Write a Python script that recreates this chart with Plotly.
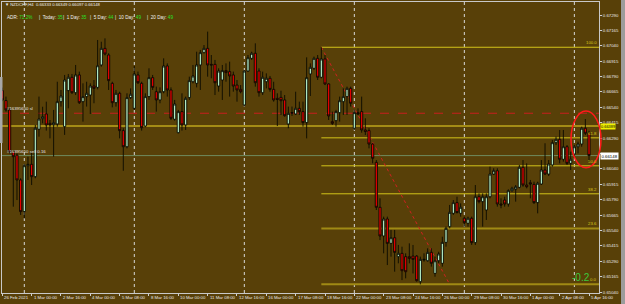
import plotly.graph_objects as go

# ---------------- data ----------------
opens = [0.66676,0.66595,0.66519,0.66179,0.66152,0.65950,0.65693,0.66066,0.66077,0.65977,
0.66362,0.66448,0.66486,0.66410,0.66399,0.66405,0.66586,0.66383,0.66676,0.66784,
0.66659,0.66803,0.66586,0.66627,0.66640,0.66713,0.66702,0.66884,0.67019,0.66965,
0.66735,0.66578,0.66654,0.66351,0.66220,0.66619,0.66532,0.66803,0.66735,0.66388,
0.66627,0.66781,0.66667,0.66600,0.66667,0.66876,0.66681,0.66443,0.66334,0.66505,
0.66397,0.66619,0.66748,0.66735,0.66884,0.66984,0.67019,0.66889,0.66889,0.66713,
0.66762,0.66838,0.66830,0.66803,0.66721,0.66686,0.66559,0.66835,0.66938,0.66979,
0.66835,0.66659,0.66748,0.66776,0.66686,0.66613,0.66621,0.66600,0.66405,0.66491,
0.66486,0.66532,0.66505,0.66416,0.66811,0.66857,0.66938,0.66784,0.66933,0.66730,
0.66424,0.66432,0.66497,0.66586,0.66627,0.66694,0.66370,0.66497,0.66505,0.66356,
0.66351,0.66242,0.66093,0.65728,0.65495,0.65633,0.65435,0.65481,0.65327,0.65354,
0.65327,0.65327,0.65332,0.65332,0.65124,0.65300,0.65294,0.65362,0.65191,0.65294,
0.65273,0.65443,0.65571,0.65679,0.65766,0.65679,0.65639,0.65598,0.65639,0.65441,
0.65814,0.65774,0.65706,0.65814,0.65998,0.66025,0.65755,0.65787,0.65755,0.65863,
0.65876,0.65890,0.66053,0.65909,0.65928,0.65914,0.65766,0.65917,0.66031,0.65998,
0.66072,0.66253,0.66280,0.66118,0.66220,0.66085,0.66161,0.66220,0.66242,0.66370,
0.66333]
highs = [0.66700,0.66627,0.66532,0.66193,0.66166,0.65964,0.66080,0.66139,0.66179,0.66397,
0.66627,0.66545,0.66586,0.66437,0.66519,0.66748,0.66681,0.66803,0.66811,0.66811,
0.66884,0.66830,0.66735,0.66748,0.66735,0.66762,0.67087,0.67073,0.67100,0.66979,
0.66748,0.66681,0.66667,0.66370,0.66654,0.66694,0.66876,0.66830,0.66748,0.66654,
0.66857,0.66803,0.66708,0.66702,0.66938,0.66897,0.66702,0.66600,0.66519,0.66654,
0.66627,0.66789,0.66884,0.66992,0.67006,0.67046,0.67155,0.66965,0.66925,0.66857,
0.66884,0.66897,0.66911,0.66830,0.66762,0.66721,0.66843,0.66965,0.66992,0.67060,
0.66857,0.66830,0.66816,0.66795,0.66748,0.66654,0.66675,0.66640,0.66546,0.66546,
0.66667,0.66586,0.66586,0.66946,0.66897,0.66952,0.66965,0.67028,0.66965,0.66735,
0.66505,0.66519,0.66627,0.66694,0.66708,0.66708,0.66519,0.66532,0.66627,0.66451,
0.66370,0.66248,0.66112,0.65801,0.65652,0.65652,0.65544,0.65544,0.65422,0.65408,
0.65354,0.65435,0.65422,0.65340,0.65327,0.65354,0.65395,0.65395,0.65327,0.65367,
0.65489,0.65571,0.65747,0.65787,0.65814,0.65760,0.65652,0.65652,0.65652,0.65909,
0.65841,0.65841,0.65841,0.66058,0.66045,0.66045,0.65801,0.65814,0.65874,0.65895,
0.65909,0.66072,0.66112,0.66085,0.65950,0.65936,0.65936,0.66112,0.66248,0.66112,
0.66275,0.66302,0.66356,0.66356,0.66234,0.66180,0.66234,0.66261,0.66383,0.66445,
0.66349]
lows = [0.66590,0.66505,0.66166,0.65733,0.65787,0.65666,0.65638,0.65950,0.65909,0.65964,
0.66302,0.66410,0.66351,0.66288,0.66139,0.66383,0.66546,0.66316,0.66532,0.66648,
0.66640,0.66567,0.66424,0.66546,0.66486,0.66573,0.66686,0.66870,0.66962,0.66681,
0.66540,0.66546,0.66288,0.66025,0.66207,0.66608,0.66519,0.66730,0.66351,0.66378,
0.66600,0.66681,0.66505,0.66573,0.66654,0.66627,0.66437,0.66432,0.66329,0.66351,
0.66356,0.66600,0.66735,0.66702,0.66681,0.66979,0.66789,0.66776,0.66640,0.66667,
0.66600,0.66748,0.66627,0.66667,0.66586,0.66654,0.66546,0.66830,0.66925,0.66708,
0.66627,0.66640,0.66694,0.66667,0.66586,0.66388,0.66478,0.66464,0.66370,0.66470,
0.66478,0.66478,0.66383,0.66288,0.66632,0.66843,0.66762,0.66776,0.66721,0.66437,
0.66397,0.66383,0.66424,0.66478,0.66478,0.66546,0.66356,0.66478,0.66334,0.66315,
0.66207,0.66085,0.65706,0.65462,0.65354,0.65259,0.65327,0.65205,0.65273,0.65137,
0.65151,0.65273,0.65191,0.65124,0.65102,0.65286,0.65286,0.65246,0.65164,0.65273,
0.65246,0.65408,0.65557,0.65666,0.65679,0.65652,0.65571,0.65571,0.65422,0.65422,
0.65760,0.65571,0.65625,0.65801,0.65990,0.65733,0.65720,0.65733,0.65733,0.65855,
0.65774,0.65882,0.65895,0.65882,0.65801,0.65755,0.65679,0.65909,0.65990,0.65982,
0.66058,0.66234,0.66085,0.66099,0.66072,0.66031,0.66139,0.66166,0.66220,0.66315,
0.66097]
closes = [0.66600,0.66519,0.66179,0.66139,0.65950,0.65693,0.66066,0.66077,0.65977,0.66370,
0.66445,0.66464,0.66397,0.66397,0.66416,0.66586,0.66632,0.66762,0.66784,0.66659,
0.66803,0.66578,0.66627,0.66654,0.66713,0.66694,0.66878,0.67019,0.66973,0.66757,
0.66578,0.66654,0.66351,0.66220,0.66619,0.66646,0.66811,0.66740,0.66375,0.66627,
0.66781,0.66702,0.66600,0.66667,0.66876,0.66681,0.66451,0.66567,0.66505,0.66397,
0.66613,0.66757,0.66795,0.66884,0.66984,0.67019,0.66884,0.66884,0.66740,0.66835,
0.66838,0.66822,0.66795,0.66713,0.66681,0.66667,0.66835,0.66943,0.66979,0.66740,
0.66659,0.66784,0.66776,0.66686,0.66600,0.66605,0.66594,0.66472,0.66491,0.66497,
0.66532,0.66505,0.66416,0.66781,0.66865,0.66938,0.66784,0.66933,0.66730,0.66470,
0.66410,0.66505,0.66594,0.66627,0.66694,0.66573,0.66497,0.66486,0.66356,0.66343,
0.66242,0.66126,0.65728,0.65495,0.65633,0.65435,0.65481,0.65362,0.65354,0.65213,
0.65205,0.65313,0.65305,0.65132,0.65305,0.65305,0.65362,0.65273,0.65294,0.65349,
0.65443,0.65557,0.65687,0.65766,0.65685,0.65728,0.65603,0.65639,0.65441,0.65814,
0.65774,0.65814,0.65814,0.65998,0.66025,0.65755,0.65747,0.65755,0.65863,0.65882,
0.65895,0.66053,0.65909,0.65895,0.65917,0.65766,0.65923,0.66031,0.65998,0.66080,
0.66253,0.66280,0.66118,0.66220,0.66085,0.66118,0.66220,0.66242,0.66370,0.66329,
0.66148]
bars = list(range(len(opens)))

time_label_bars = list(range(0, 161, 8))
time_labels = ["26 Feb 2021", "1 Mar 00:00", "2 Mar 16:00", "4 Mar 00:00", "5 Mar 08:00",
               "8 Mar 16:00", "10 Mar 00:00", "11 Mar 08:00", "12 Mar 16:00", "16 Mar 00:00",
               "17 Mar 08:00", "18 Mar 16:00", "22 Mar 00:00", "23 Mar 08:00", "24 Mar 16:00",
               "26 Mar 00:00", "29 Mar 08:00", "30 Mar 16:00", "1 Apr 00:00", "2 Apr 08:00",
               "5 Apr 16:00"]
price_ticks = [0.65040, 0.65165, 0.65290, 0.65415, 0.65540, 0.65665, 0.65790, 0.65915,
               0.66040, 0.66165, 0.66290, 0.66415, 0.66540, 0.66665, 0.66790, 0.66915,
               0.67040, 0.67165, 0.67290]
separator_bars = [6, 36, 66, 96, 126, 156]

fib_start_bar = 87
fib_end_bar = 122
fib_high = 0.67028
fib_low = 0.65102
fib_levels = [0.0, 23.6, 38.2, 50.0, 61.8, 100.0]

sl_price = 0.66492
bid_price = 0.66148
level_price = 0.66389

header = "\u25bc NZDCHF,H4  0.66333 0.66349 0.66097 0.66148"
adr_items = [("ADR:", "71.2%"), ("|  Today:", "35"), ("|  1 Day:", "35"),
             ("|  5 Day:", "44"), ("|  10 Day:", "49"), ("|  20 Day:", "49")]

# ---------------- style ----------------
W, H = 625, 304
ML, MR, MT, MB = 2, 26, 2, 11
PW, PH = W - ML - MR, H - MT - MB
BG = "#584008"
FONT = "Liberation Sans"
FS = 4.3
SPACING = 3.667
X0PX = 2.3


def xp(px):
    return (px - ML) / PW


def yp(py):
    return (H - MB - py) / PH


x_lo = (ML - X0PX) / SPACING
x_hi = (W - MR - X0PX) / SPACING
y_per_px = 0.0225 / 277.0
y_hi = 0.67290 + (15 - MT) * y_per_px
y_lo = 0.67290 - (H - MB - 15) * y_per_px

fig = go.Figure()
fig.add_trace(go.Candlestick(
    x=bars, open=opens, high=highs, low=lows, close=closes,
    increasing=dict(fillcolor="#b8f5cc", line=dict(color="#0a0a00", width=0.9)),
    decreasing=dict(fillcolor="#ee0000", line=dict(color="#0a0a00", width=0.9)),
    whiskerwidth=0, showlegend=False, hoverinfo="skip"))

shapes = []
# period separators
for b in separator_bars:
    shapes.append(dict(type="line", xref="x", yref="paper", x0=b, x1=b, y0=0, y1=1,
                       line=dict(color="#d8d8d8", width=1, dash="dot"), layer="below"))
# horizontal full-width lines
shapes.append(dict(type="line", xref="paper", yref="y", x0=0, x1=1, y0=sl_price, y1=sl_price,
                   line=dict(color="#c81e1e", width=1, dash="dash"), layer="below"))
shapes.append(dict(type="line", xref="paper", yref="y", x0=0, x1=1, y0=level_price, y1=level_price,
                   line=dict(color="#a48c16", width=2), layer="below"))
shapes.append(dict(type="line", xref="paper", yref="y", x0=0, x1=1, y0=bid_price, y1=bid_price,
                   line=dict(color="#6e8a5e", width=1), layer="below"))
# fibonacci
rng = fib_high - fib_low
for lv in fib_levels:
    p = fib_low + rng * lv / 100.0
    thick = lv in (0.0, 23.6)
    shapes.append(dict(type="line", xref="x", yref="y", x0=fib_start_bar, x1=x_hi, y0=p, y1=p,
                       line=dict(color="#a08a14" if thick else "#d2c21a", width=2 if thick else 1),
                       layer="below"))
shapes.append(dict(type="line", xref="x", yref="y", x0=fib_start_bar, x1=fib_end_bar,
                   y0=fib_high, y1=fib_low, line=dict(color="#d02020", width=1, dash="dot"),
                   layer="below"))
# red ellipse
shapes.append(dict(type="circle", xref="paper", yref="paper", x0=xp(571), x1=xp(601),
                   y0=yp(167.7), y1=yp(111), line=dict(color="#ff1a1a", width=1.5)))
# right scrollbar strip
shapes.append(dict(type="rect", xref="paper", yref="paper", x0=xp(621), x1=xp(625.5),
                   y0=yp(304), y1=yp(0), fillcolor="#9c9c9c", line=dict(width=0)))
# left gray marker
shapes.append(dict(type="rect", xref="paper", yref="paper", x0=xp(0), x1=xp(2.5),
                   y0=yp(143), y1=yp(77), fillcolor="#a8a8a8", line=dict(width=0)))

ann = []
ann.append(dict(text=header, xref="paper", yref="paper", x=xp(3), y=yp(5),
                xanchor="left", yanchor="middle", showarrow=False,
                font=dict(family=FONT, size=4.2, color="#f0f0f0")))
adr_px = [5, 37, 61, 88, 113, 145]
for (lab, val), px in zip(adr_items, adr_px):
    ann.append(dict(text=lab + " <span style='color:#28e028'>" + val + "</span>",
                    xref="paper", yref="paper", x=xp(px), y=yp(17.7),
                    xanchor="left", yanchor="middle", showarrow=False,
                    font=dict(family=FONT, size=4.6, color="#f0f0f0")))
ann.append(dict(text="#16395650 sl", xref="paper", yref="y", x=xp(5), y=sl_price,
                xanchor="left", yanchor="bottom", showarrow=False,
                font=dict(family=FONT, size=FS, color="#e8e8e8")))
ann.append(dict(text="#16395650 sell 0.16", xref="paper", yref="y", x=xp(5), y=bid_price,
                xanchor="left", yanchor="bottom", showarrow=False,
                font=dict(family=FONT, size=FS, color="#e8e8e8")))
for lv in fib_levels:
    p = fib_low + rng * lv / 100.0
    ann.append(dict(text="%.1f" % lv, xref="paper", yref="y", x=xp(598.5), y=p,
                    xanchor="right", yanchor="bottom", showarrow=False,
                    font=dict(family=FONT, size=FS, color="#d8c81a")))
# price boxes on axis
ann.append(dict(text="%.5f" % level_price, xref="paper", yref="y", x=xp(600), y=level_price,
                xanchor="left", yanchor="middle", showarrow=False, bgcolor="#f0f000",
                borderpad=0, yshift=-0.6, font=dict(family=FONT, size=3.9, color="#000000")))
ann.append(dict(text="%.5f" % bid_price, xref="paper", yref="y", x=xp(600), y=bid_price,
                xanchor="left", yanchor="middle", showarrow=False, bgcolor="#ffffff",
                borderpad=0.5, font=dict(family=FONT, size=FS, color="#000000")))
# time labels
for b, t in zip(time_label_bars, time_labels):
    ann.append(dict(text=t, xref="x", yref="paper", x=b, y=yp(297.8),
                    xanchor="left", yanchor="middle", showarrow=False,
                    font=dict(family=FONT, size=FS, color="#e8e8e8")))
ann.append(dict(text="-0.2", xref="paper", yref="paper", x=xp(581), y=yp(277),
                xanchor="center", yanchor="middle", showarrow=False,
                font=dict(family=FONT, size=10, color="#3cc83c")))

# tick text hidden where the bid-price box covers it
tick_text = ["" if abs(v - bid_price) < 0.0003 else "%.5f" % v for v in price_ticks]

fig.update_layout(
    width=W, height=H, margin=dict(l=ML, r=MR, t=MT, b=MB, pad=0),
    paper_bgcolor=BG, plot_bgcolor=BG, showlegend=False,
    shapes=shapes, annotations=ann,
    xaxis=dict(range=[x_lo, x_hi], showgrid=False, zeroline=False, rangeslider=dict(visible=False),
               tickvals=time_label_bars, ticktext=[""] * len(time_label_bars),
               ticks="outside", ticklen=2, tickcolor="#d0d0d0",
               showline=True, linecolor="#c8c8c8", linewidth=1, mirror=True, fixedrange=True),
    yaxis=dict(range=[y_lo, y_hi], side="right", showgrid=False, zeroline=False,
               tickvals=price_ticks, ticktext=tick_text,
               ticks="outside", ticklen=2, tickcolor="#d0d0d0",
               tickfont=dict(family=FONT, size=FS, color="#e8e8e8"),
               showline=True, linecolor="#c8c8c8", linewidth=1, mirror=True, fixedrange=True),
    boxgap=0.15,
)

fig.write_html("out.html")
